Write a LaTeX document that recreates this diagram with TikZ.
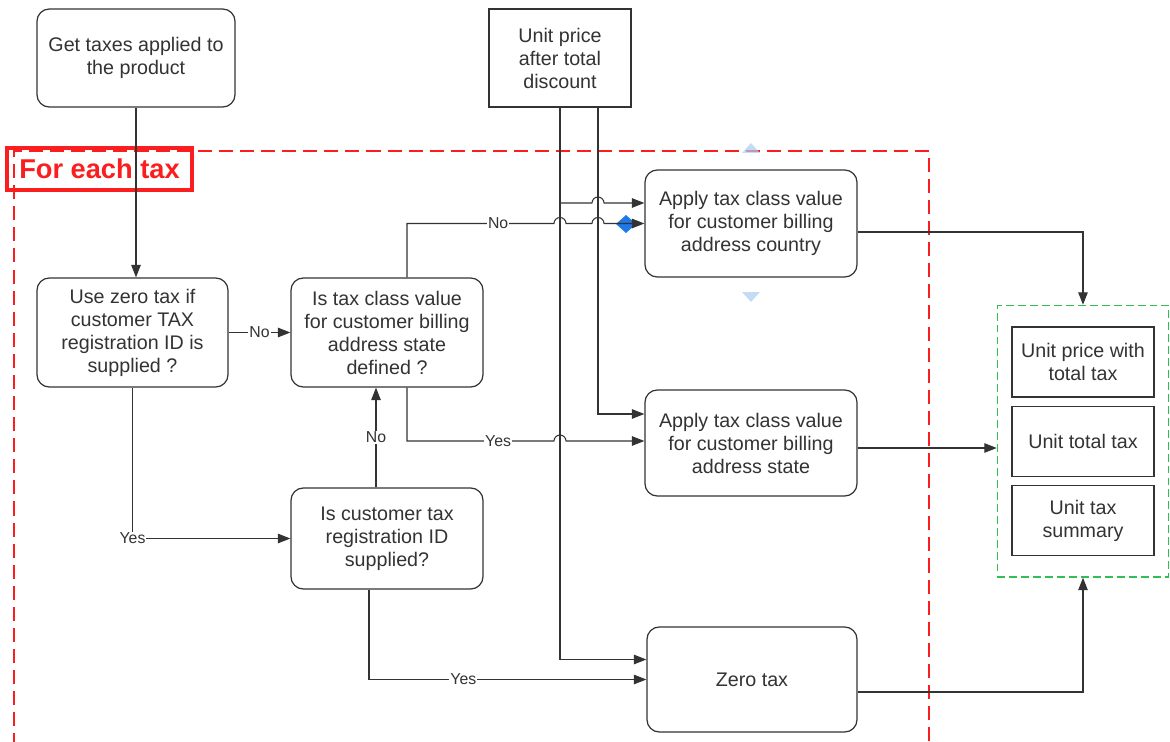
\documentclass[tikz,border=0pt]{standalone}
\usepackage{fontspec}
\setmainfont{Liberation Sans}
\usetikzlibrary{arrows.meta,calc,positioning,fit}

\definecolor{inkgray}{RGB}{51,51,51}
\definecolor{loopred}{RGB}{250,30,30}
\definecolor{resgreen}{RGB}{50,190,85}
\definecolor{selblue}{RGB}{30,120,230}
\definecolor{sellight}{RGB}{170,205,240}

\begin{document}
\begin{tikzpicture}[
  font=\fontsize{11.2}{13.1}\selectfont,
  >={Triangle[length=2.5mm,width=1.9mm]},
  basebox/.style={draw=inkgray,line width=0.7pt,rectangle,align=center,
                  text=inkgray,fill=white},
  procbox/.style={basebox,rounded corners=7pt},
  databox/.style={basebox},
  resbox/.style ={basebox,minimum width=2.84cm,minimum height=1.4cm},
  flow/.style   ={->,line width=0.6pt,inkgray},
  lbl/.style    ={fill=white,inner sep=0.6pt,text=inkgray,
                  font=\fontsize{9}{10}\selectfont},
  loopframe/.style={loopred,line width=1.2pt,dash pattern=on 8pt off 4pt},
  looplbl/.style={draw=loopred,line width=2.2pt,text=loopred,
                  font=\fontsize{15.5}{18}\selectfont\bfseries,
                  minimum width=3.7cm,minimum height=0.84cm},
]
\useasboundingbox (0,0) rectangle (23.4,-14.84);

%% ===== Loop frame ============================================================
\draw[loopframe] (0.28,-14.95) |- (18.58,-3.02) -- (18.58,-14.95);
\node[looplbl] (eachtax) at (1.99,-3.38) {For each tax};

%% ===== Selection handles =====================================================
\fill[sellight,opacity=0.7] (14.84,-3.06) -- (15.2,-3.06) -- (15.02,-2.86) -- cycle;
\fill[sellight,opacity=0.7] (14.84,-5.84) -- (15.2,-5.84) -- (15.02,-6.04) -- cycle;
\fill[selblue] (12.32,-4.48) -- (12.52,-4.3) -- (12.72,-4.48) -- (12.52,-4.66) -- cycle;

%% ===== Inputs ================================================================
\node[procbox,minimum width=3.96cm,minimum height=1.96cm] (gettax)
      at (2.72,-1.16) {Get taxes applied to\\the product};
\node[databox,minimum width=2.84cm,minimum height=1.96cm] (price)
      at (11.2,-1.16) {Unit price\\after total\\discount};

%% ===== Decisions =============================================================
\node[procbox,minimum width=3.82cm,minimum height=2.18cm] (zerochk)
      at (2.65,-6.65)
      {Use zero tax if\\customer TAX\\registration ID is\\supplied ?};
\node[procbox,minimum width=3.84cm,minimum height=2.18cm] (statechk)
      at (7.74,-6.65)
      {Is tax class value\\for customer billing\\address state\\defined ?};
\node[procbox,minimum width=3.84cm,minimum height=2.02cm] (regchk)
      at (7.74,-10.77)
      {Is customer tax\\registration ID\\supplied?};

%% ===== Actions ===============================================================
\node[procbox,minimum width=4.24cm,minimum height=2.14cm] (country)
      at (15.02,-4.47)
      {Apply tax class value\\for customer billing\\address country};
\node[procbox,minimum width=4.24cm,minimum height=2.12cm] (applystate)
      at (15.02,-8.86)
      {Apply tax class value\\for customer billing\\address state};
\node[procbox,minimum width=4.2cm,minimum height=2.1cm] (zerotax)
      at (15.04,-13.59) {Zero tax};

%% ===== Results ===============================================================
\node[resbox] (res1) at (21.66,-7.24) {Unit price with\\total tax};
\node[resbox,below=0.16cm of res1] (res2) {Unit total tax};
\node[resbox,below=0.16cm of res2] (res3) {Unit tax\\summary};
\node[draw=resgreen,line width=0.7pt,dash pattern=on 4.5pt off 2.3pt,
      inner xsep=0.28cm,inner ysep=0.42cm,fit=(res1)(res2)(res3)] (results) {};

%% ===== Entry points ==========================================================
\coordinate (v2)   at ($(price.south)+(0.76,0)$);
\coordinate (cin1) at ($(country.west)+(0,0.41)$);
\coordinate (sin1) at ($(applystate.west)+(0,0.58)$);
\coordinate (sin2) at ($(applystate.west)+(0,0.04)$);
\coordinate (zin1) at ($(zerotax.west)+(0,0.4)$);
\coordinate (sout) at ($(applystate.east)+(0,-0.1)$);

%% ===== Connectors ============================================================
\draw[flow] (gettax.south) -- (gettax.south |- zerochk.north);
\draw[flow] (zerochk.east) -- (statechk.west) node[lbl,midway]{No};
\draw[flow] (zerochk.south) |- (regchk.west) node[lbl,pos=0.5]{Yes};
\draw[flow] ($(regchk.north)+(-0.22,0)$) -- ($(statechk.south)+(-0.22,0)$)
      node[lbl,midway]{No};
\draw[flow] ($(regchk.south)+(-0.36,0)$) |- (zerotax.west)
      node[lbl,pos=0.67]{Yes};

\draw[flow] (price.south) |- (zin1);
\draw[flow] (v2) |- (sin1);
\draw[flow] (price.south |- cin1) -- ($(v2 |- cin1)+(-0.12,0)$)
      arc[start angle=180,end angle=0,radius=0.12] -- (cin1);

\draw[flow] ($(statechk.north)+(0.4,0)$)
      |- ($(price.south |- country.west)+(-0.12,0)$) node[lbl,pos=0.81]{No}
      arc[start angle=180,end angle=0,radius=0.12]
      -- ($(v2 |- country.west)+(-0.12,0)$)
      arc[start angle=180,end angle=0,radius=0.12]
      -- (country.west);
\draw[flow] ($(statechk.south)+(0.4,0)$)
      |- ($(price.south |- sin2)+(-0.12,0)$) node[lbl,pos=0.81]{Yes}
      arc[start angle=180,end angle=0,radius=0.12] -- (sin2);

\draw[flow] ($(country.east)+(0,-0.17)$) -| (results.north);
\draw[flow] (sout) -- (results.west |- sout);
\draw[flow] ($(zerotax.east)+(0,-0.25)$) -| (results.south);

\end{tikzpicture}
\end{document}
